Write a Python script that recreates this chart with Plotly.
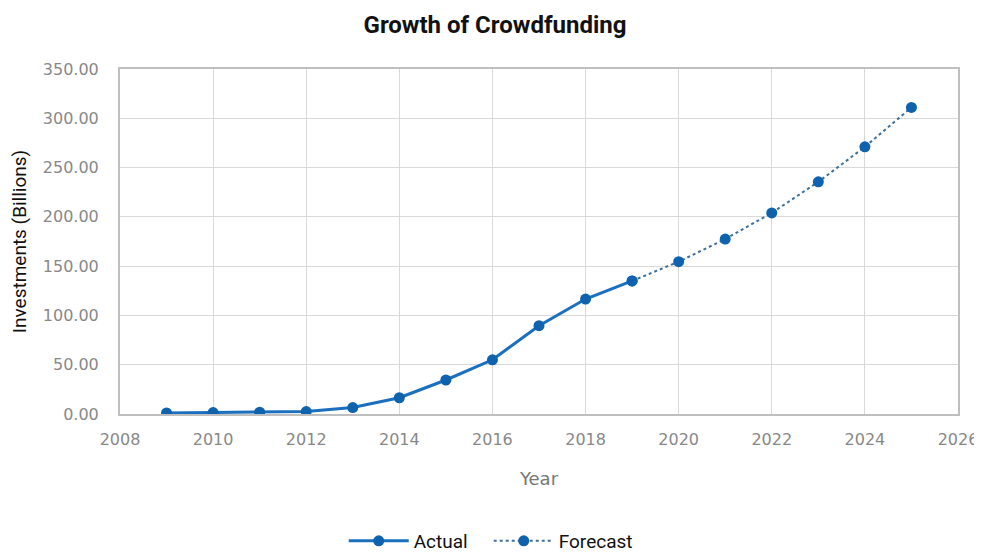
import plotly.graph_objects as go

years_actual = [2009, 2010, 2011, 2012, 2013, 2014, 2015, 2016, 2017, 2018, 2019]
values_actual = [1.0, 1.5, 1.8, 2.5, 6.5, 16.5, 34.5, 55.0, 89.6, 116.6, 135.0]
years_forecast = [2019, 2020, 2021, 2022, 2023, 2024, 2025]
values_forecast = [135.0, 154.5, 177.5, 204.0, 235.5, 271.0, 311.0]

blue = "#1a6fbf"
marker_blue = "#0f62ad"

fig = go.Figure()
fig.add_trace(go.Scatter(
    x=years_actual, y=values_actual, name="Actual", mode="lines+markers",
    line=dict(color=blue, width=3),
    marker=dict(color=marker_blue, size=11),
))
fig.add_trace(go.Scatter(
    x=years_forecast, y=values_forecast, name="Forecast", mode="lines+markers",
    line=dict(color="#3d6f9a", width=2, dash="dot"),
    marker=dict(color=marker_blue, size=11),
))

fig.update_layout(
    width=974, height=544,
    paper_bgcolor="white", plot_bgcolor="white",
    margin=dict(l=112, r=24, t=61, b=138, autoexpand=False),
    title=dict(text="<b>Growth of Crowdfunding</b>", x=0.5, xanchor="center", y=0.969, yanchor="middle",
               font=dict(family="Roboto, sans-serif", size=24, color="#111")),
    font=dict(family="DejaVu Sans, sans-serif"),
    showlegend=True,
    legend=dict(orientation="h", x=0.44, xanchor="center", y=-0.368, yanchor="middle",
                itemwidth=60, entrywidth=70, entrywidthmode="pixels",
                font=dict(family="Roboto, sans-serif", size=19, color="#111")),
)
fig.update_xaxes(
    range=[2008, 2026], dtick=2, tick0=2008,
    showgrid=True, gridcolor="#d9d9d9", gridwidth=1,
    showline=True, linecolor="#bfbfbf", linewidth=2, mirror=True,
    ticks="", tickfont=dict(size=16, color="#888"), ticklabelstandoff=10,
    title=dict(text="Year", font=dict(size=18, color="#777"), standoff=24),
    zeroline=False, automargin=False,
)
fig.update_yaxes(
    range=[0, 350], dtick=50, tickformat=".2f",
    showgrid=True, gridcolor="#d9d9d9", gridwidth=1,
    showline=True, linecolor="#bfbfbf", linewidth=2, mirror=True,
    ticks="", tickfont=dict(size=16, color="#888"), ticklabelstandoff=16,
    title=dict(text="Investments (Billions)", font=dict(family="Roboto, sans-serif", size=19, color="#111"), standoff=24),
    zeroline=False, automargin=False,
)

fig.write_html("out.html")
